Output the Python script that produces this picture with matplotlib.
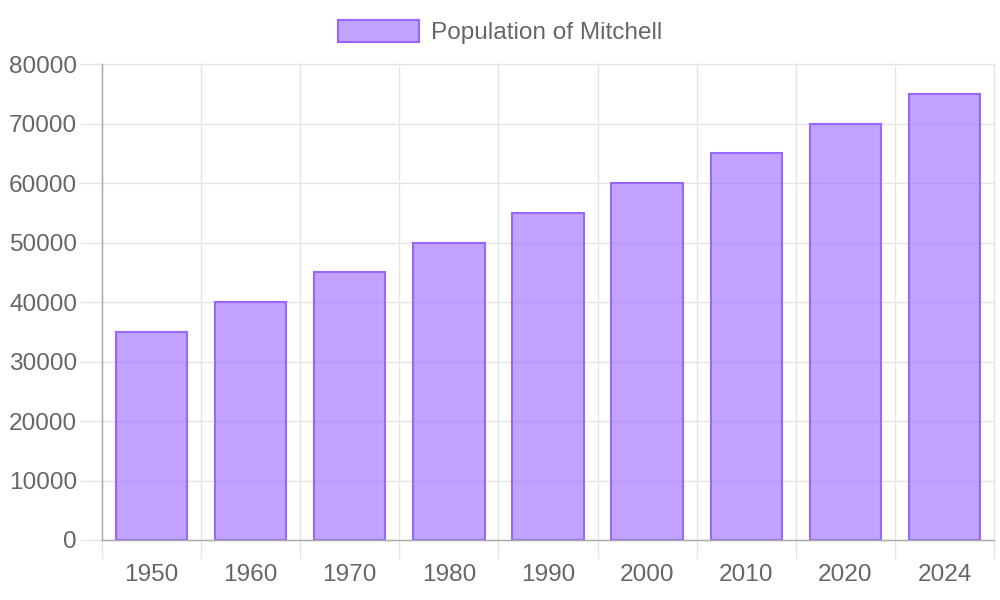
import matplotlib
matplotlib.use("Agg")
import matplotlib.pyplot as plt
from matplotlib.ticker import FixedLocator

years = ["1950", "1960", "1970", "1980", "1990", "2000", "2010", "2020", "2024"]
population = [35000, 40000, 45000, 50000, 55000, 60000, 65000, 70000, 75000]
y_ticks = [0, 10000, 20000, 30000, 40000, 50000, 60000, 70000, 80000]
series_name = "Population of Mitchell"

plt.rcParams['font.family'] = ['Liberation Sans', 'DejaVu Sans']
TXT = '#666666'
GRID = '#e5e5e5'
FS = 17.6

fig = plt.figure(figsize=(10, 6), dpi=100)
ax = fig.add_axes([0.102, 0.1, 0.892, 0.7933])
ax.set_axisbelow(True)

x = list(range(len(years)))
ax.bar(x, population, width=0.72, color=(153/255, 102/255, 255/255, 0.6),
       edgecolor=(153/255, 102/255, 255/255, 1.0), linewidth=1.5,
       label=series_name, zorder=3)

ax.set_xlim(-0.5, len(years) - 0.5)
ax.set_ylim(0, 80000)

ax.set_xticks(x)
ax.set_xticklabels(years)
ax.xaxis.set_minor_locator(FixedLocator([i - 0.5 for i in range(len(years) + 1)]))
ax.tick_params(axis='x', which='major', length=0, pad=17, labelsize=FS, labelcolor=TXT,
               gridOn=False)
ax.tick_params(axis='x', which='minor', length=14, width=1, color=GRID,
               gridOn=True, grid_color=GRID, grid_linewidth=1, grid_alpha=1)

ax.set_yticks(y_ticks)
ax.tick_params(axis='y', which='major', length=16, width=1, color=GRID, pad=2,
               labelsize=FS, labelcolor=TXT,
               gridOn=True, grid_color=GRID, grid_linewidth=1, grid_alpha=1)

for t in ax.xaxis.get_minor_ticks() + ax.yaxis.get_major_ticks():
    t.gridline.set_clip_on(False)

for s in ['top', 'right']:
    ax.spines[s].set_visible(False)
for s in ['left', 'bottom']:
    ax.spines[s].set_color('#aaaaaa')
    ax.spines[s].set_linewidth(1)
    ax.spines[s].set_zorder(4)

leg = ax.legend(loc='center', bbox_to_anchor=(0.5, 1 - 32 / 600), bbox_transform=fig.transFigure,
                frameon=False, fontsize=FS, handlelength=3.3, handleheight=1.0,
                handletextpad=0.5, labelcolor=TXT)

fig.savefig("out.png", dpi=100)
